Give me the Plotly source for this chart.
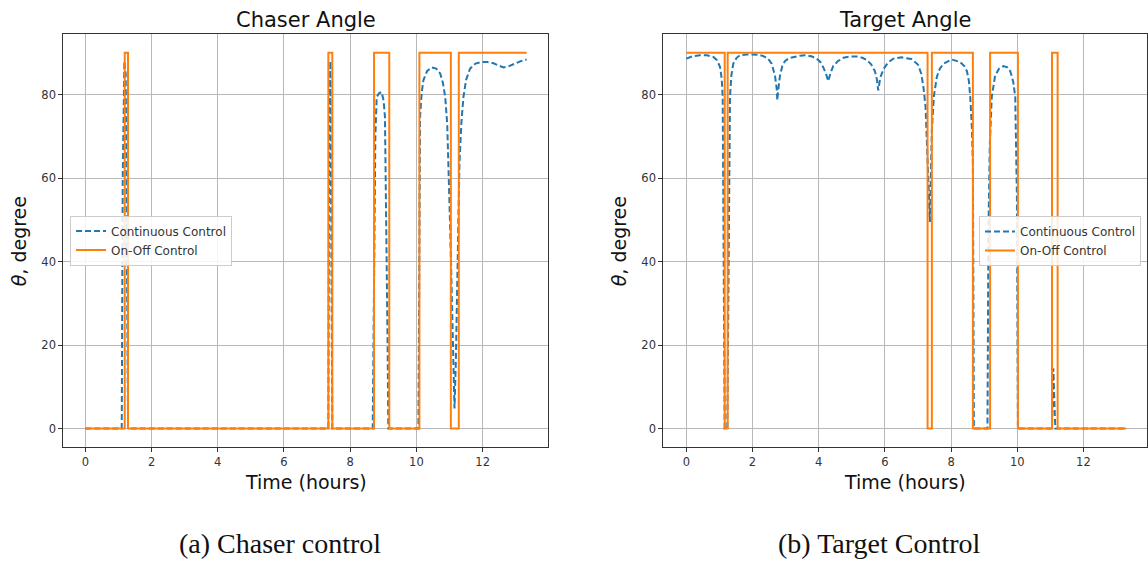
import plotly.graph_objects as go

# ---------------- data ----------------
# Chaser (left panel)
chaser_cont_t = [0, 1.10, 1.13, 1.18, 1.22, 1.26, 1.29, 7.34, 7.36, 7.40, 7.43, 7.46,
                 8.68, 8.72, 8.76, 8.80, 8.87, 8.95, 9.01, 9.05, 9.10, 9.13, 9.15,
                 10.06, 10.09, 10.11, 10.16, 10.21, 10.32, 10.46, 10.60, 10.72, 10.80, 10.87,
                 10.93, 10.97, 11.02, 11.07, 11.11, 11.15, 11.19, 11.22, 11.26, 11.30,
                 11.36, 11.42, 11.50, 11.62, 11.78, 11.97, 12.15, 12.33, 12.50, 12.63,
                 12.80, 12.98, 13.15, 13.33]
chaser_cont_v = [0, 0, 60, 88, 85, 40, 0, 0, 60, 88, 50, 0,
                 0, 45, 70, 79.4, 80.3, 80.6, 78.5, 74.6, 47.5, 20, 0,
                 0, 45, 74.6, 80.5, 83.4, 85.6, 86.5, 86.2, 85.0, 82.8, 79.4,
                 73.0, 63.5, 48.0, 31.5, 15.0, 4.8, 16.0, 31.5, 48.0, 63.5,
                 73.5, 79.4, 83.5, 86.2, 87.4, 87.8, 87.8, 87.5, 86.9, 86.5,
                 86.8, 87.5, 88.0, 88.4]
chaser_onoff_t = [0, 1.19, 1.29, 7.34, 7.46, 8.72, 9.18, 10.09, 11.04, 11.28, 13.33]
chaser_onoff_v = [0, 90, 0, 90, 0, 90, 0, 90, 0, 90, 90]

# Target (right panel)
target_cont_t = [0, 0.20, 0.41, 0.62, 0.82, 0.93, 1.02, 1.07, 1.10, 1.13, 1.16, 1.24, 1.28,
                 1.32, 1.36, 1.42, 1.52, 1.62, 1.82, 2.03, 2.20, 2.33, 2.47, 2.58, 2.68,
                 2.73, 2.75, 2.77, 2.83, 2.90, 2.98, 3.10, 3.23, 3.43, 3.64, 3.80, 3.94,
                 4.05, 4.14, 4.22, 4.29, 4.36, 4.44, 4.58, 4.75, 4.95, 5.15, 5.32, 5.45,
                 5.58, 5.70, 5.76, 5.80, 5.86, 5.96, 6.10, 6.26, 6.51, 6.80, 7.00, 7.10,
                 7.17, 7.23, 7.27, 7.32, 7.36, 7.39, 7.42, 7.48, 7.57, 7.66, 7.77, 8.02,
                 8.27, 8.40, 8.48, 8.54, 8.58, 8.63, 8.66, 8.69, 9.10, 9.13, 9.17, 9.23,
                 9.33, 9.45, 9.58, 9.70, 9.79, 9.88, 9.94, 9.99, 10.02, 11.05, 11.09,
                 11.15, 13.29]
target_cont_v = [88.6, 89.2, 89.4, 89.4, 89.0, 88.2, 86.6, 83.8, 79.4, 50, 0, 0, 50,
                 79.4, 84.5, 87.4, 88.8, 89.4, 89.6, 89.6, 89.5, 89.2, 88.6, 87.4, 84.5,
                 81.5, 78.6, 80.5, 84.5, 86.8, 88.0, 88.7, 89.0, 89.3, 89.4, 89.1, 88.6,
                 87.8, 86.5, 85.0, 83.2, 85.2, 86.8, 88.0, 88.8, 89.1, 89.1, 88.8, 88.3,
                 87.3, 85.6, 83.6, 81.0, 84.0, 86.1, 87.7, 88.6, 88.9, 88.5, 87.2, 85.0,
                 81.5, 77.0, 70.0, 58.0, 49.5, 62.0, 71.4, 79.5, 84.2, 86.2, 87.4, 88.4,
                 87.8, 86.8, 85.6, 83.2, 79.4, 72.0, 63.5, 0, 0, 47.5, 68.0, 79.4,
                 84.5, 86.2, 86.8, 86.5, 85.6, 83.0, 79.4, 55.5, 0, 0, 14.4,
                 0, 0]
target_onoff_t = [0, 1.16, 1.25, 7.29, 7.42, 8.66, 9.18, 10.02, 11.05, 11.22, 13.29]
target_onoff_v = [90, 0, 90, 0, 90, 0, 90, 0, 90, 0, 0]

x_ticks = [0, 2, 4, 6, 8, 10, 12]
y_ticks = [0, 20, 40, 60, 80]
panel_titles = ["Chaser Angle", "Target Angle"]
captions = ["(a) Chaser control", "(b) Target Control"]
series_names = ["Continuous Control", "On-Off Control"]

# ---------------- figure ----------------
W, H = 1148, 561
BLUE = "#1f77b4"
ORANGE = "#ff7f0e"
FONT = "DejaVu Sans"

fig = go.Figure()

def px_x(v):
    return v / W

def px_y(v):
    return 1 - v / H

panels = [
    dict(xa="x", ya="y", leg="legend", cont=(chaser_cont_t, chaser_cont_v),
         onoff=(chaser_onoff_t, chaser_onoff_v)),
    dict(xa="x2", ya="y2", leg="legend2", cont=(target_cont_t, target_cont_v),
         onoff=(target_onoff_t, target_onoff_v)),
]

for p in panels:
    fig.add_trace(go.Scatter(x=p["cont"][0], y=p["cont"][1], mode="lines",
                             name=series_names[0], xaxis=p["xa"], yaxis=p["ya"],
                             legend=p["leg"],
                             line=dict(color=BLUE, width=2, dash="6px,3px")))
    fig.add_trace(go.Scatter(x=p["onoff"][0], y=p["onoff"][1], mode="lines",
                             name=series_names[1], xaxis=p["xa"], yaxis=p["ya"],
                             legend=p["leg"], line_shape="hv",
                             line=dict(color=ORANGE, width=2)))

# plot-area pixel boxes
left_box = (63.3, 547.7)
right_box = (663.3, 1147.3)
top_px, bot_px = 34.0, 447.3

axis_common = dict(
    showgrid=True, gridcolor="#b8b8b8", gridwidth=1,
    showline=True, linecolor="#333333", linewidth=1, mirror=True,
    ticks="outside", ticklen=4, tickcolor="#333333", tickwidth=1,
    tickfont=dict(family=FONT, size=11.5, color="#333333"),
    zeroline=False, automargin=False, fixedrange=True,
)

fig.update_layout(
    width=W, height=H,
    margin=dict(l=0, r=0, t=0, b=0),
    paper_bgcolor="white", plot_bgcolor="white",
    template="none",
    xaxis=dict(domain=[px_x(left_box[0]), px_x(left_box[1])], range=[-0.665, 13.965],
               tickvals=x_ticks, anchor="y", **axis_common),
    yaxis=dict(domain=[px_y(bot_px), px_y(top_px)], range=[-4.5, 94.5],
               tickvals=y_ticks, anchor="x", **axis_common),
    xaxis2=dict(domain=[px_x(right_box[0]), px_x(right_box[1])], range=[-0.695, 13.93],
                tickvals=x_ticks, anchor="y2", **axis_common),
    yaxis2=dict(domain=[px_y(bot_px), px_y(top_px)], range=[-4.5, 94.5],
                tickvals=y_ticks, anchor="x2", **axis_common),
    legend=dict(x=px_x(70), y=px_y(240.5), xanchor="left", yanchor="middle",
                bgcolor="rgba(255,255,255,0.85)", bordercolor="#cccccc", borderwidth=1,
                font=dict(family=FONT, size=12, color="#333333"),
                tracegroupgap=0),
    legend2=dict(x=px_x(979), y=px_y(241), xanchor="left", yanchor="middle",
                 bgcolor="rgba(255,255,255,0.85)", bordercolor="#cccccc", borderwidth=1,
                 font=dict(family=FONT, size=12, color="#333333"),
                 tracegroupgap=0),
    showlegend=True,
)

annotations = []
for box, title, cap_x, cap in [(left_box, panel_titles[0], 280, captions[0]),
                               (right_box, panel_titles[1], 879, captions[1])]:
    cx = (box[0] + box[1]) / 2
    annotations.append(dict(text=title, x=px_x(cx), y=px_y(20), xref="paper", yref="paper",
                            xanchor="center", yanchor="middle", showarrow=False,
                            font=dict(family=FONT, size=21, color="#111111")))
    annotations.append(dict(text="Time (hours)", x=px_x(cx), y=px_y(482), xref="paper",
                            yref="paper", xanchor="center", yanchor="middle", showarrow=False,
                            font=dict(family=FONT, size=19, color="#111111")))
    annotations.append(dict(text="<i>θ</i>, degree", x=px_x(box[0] - 44), y=px_y(241),
                            xref="paper", yref="paper", xanchor="center", yanchor="middle",
                            textangle=-90, showarrow=False,
                            font=dict(family=FONT, size=19, color="#111111")))
    annotations.append(dict(text=cap, x=px_x(cap_x), y=px_y(543), xref="paper", yref="paper",
                            xanchor="center", yanchor="middle", showarrow=False,
                            font=dict(family="Liberation Serif", size=28, color="#111111")))
fig.update_layout(annotations=annotations)

fig.write_html("out.html")
